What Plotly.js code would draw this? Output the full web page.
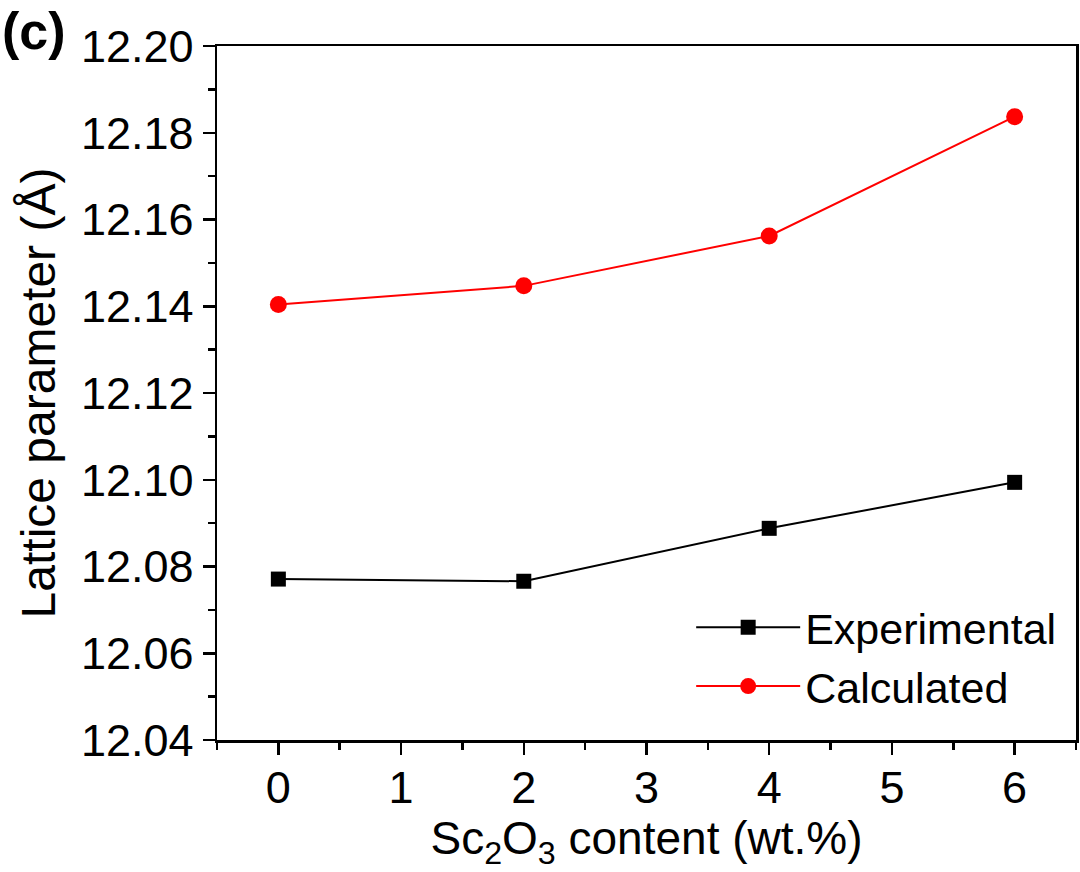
<!DOCTYPE html>
<html>
<head>
<meta charset="utf-8">
<script src="https://cdn.plot.ly/plotly-3.0.1.min.js"></script>
<style>html,body{margin:0;padding:0;background:#fff;}#chart{width:1080px;height:872px;}</style>
</head>
<body>
<div id="chart"></div>
<script>
const xContent = [0, 2, 4, 6];
const experimental = [12.0771, 12.0766, 12.0888, 12.0994];
const calculated = [12.1404, 12.1447, 12.1562, 12.1837];
const xTicks = [0, 1, 2, 3, 4, 5, 6];
const yTicks = [12.04, 12.06, 12.08, 12.10, 12.12, 12.14, 12.16, 12.18, 12.20];

const font = 'Liberation Sans, Arial, sans-serif';
const traces = [
  {x: xContent, y: experimental, name: 'Experimental', mode: 'lines+markers', type: 'scatter',
   line: {color: '#000000', width: 2}, marker: {symbol: 'square', size: 15, color: '#000000'}},
  {x: xContent, y: calculated, name: 'Calculated', mode: 'lines+markers', type: 'scatter',
   line: {color: '#ff0000', width: 2}, marker: {symbol: 'circle', size: 17, color: '#ff0000'}}
];
const layout = {
  width: 1080, height: 872,
  margin: {l: 217, r: 4, t: 46, b: 132},
  paper_bgcolor: '#fff', plot_bgcolor: '#fff',
  font: {family: font, size: 45, color: '#000'},
  showlegend: true,
  legend: {x: 0.552, y: 0.12, xanchor: 'left', yanchor: 'middle', bgcolor: 'rgba(0,0,0,0)',
           font: {family: font, size: 43}, itemwidth: 104, tracegroupgap: 0},
  xaxis: {range: [-0.5, 6.5], tickvals: xTicks, ticktext: xTicks.map(String),
          showline: true, linecolor: '#000', linewidth: 2.5, mirror: true, showgrid: false, zeroline: false,
          ticks: 'outside', ticklen: 12, tickwidth: 2.5, tickcolor: '#000', ticklabelstandoff: -6,
          minor: {dtick: 0.5, tick0: 0, ticks: 'outside', ticklen: 7, tickwidth: 2.5, tickcolor: '#000', showgrid: false},
          tickfont: {family: font, size: 45},
          title: {text: 'Sc<sub>2</sub>O<sub>3</sub> content (wt.%)', font: {family: font, size: 46}, standoff: 8}},
  yaxis: {range: [12.04, 12.20], tickvals: yTicks, ticktext: yTicks.map(v => v.toFixed(2)),
          showline: true, linecolor: '#000', linewidth: 2.5, mirror: true, showgrid: false, zeroline: false,
          ticks: 'outside', ticklen: 12, tickwidth: 2.5, tickcolor: '#000',
          minor: {dtick: 0.01, tick0: 12.04, ticks: 'outside', ticklen: 7, tickwidth: 2.5, tickcolor: '#000', showgrid: false},
          tickfont: {family: font, size: 45},
          title: {text: 'Lattice parameter (Å)', font: {family: font, size: 48}, standoff: 10}},
  annotations: [{text: '<b>(c)</b>', xref: 'paper', yref: 'paper', x: -0.2526, y: 1.066, xanchor: 'left', yanchor: 'top',
                 showarrow: false, font: {family: font, size: 52}}]
};
Plotly.newPlot('chart', traces, layout, {displayModeBar: false, staticPlot: true});
</script>
</body>
</html>
